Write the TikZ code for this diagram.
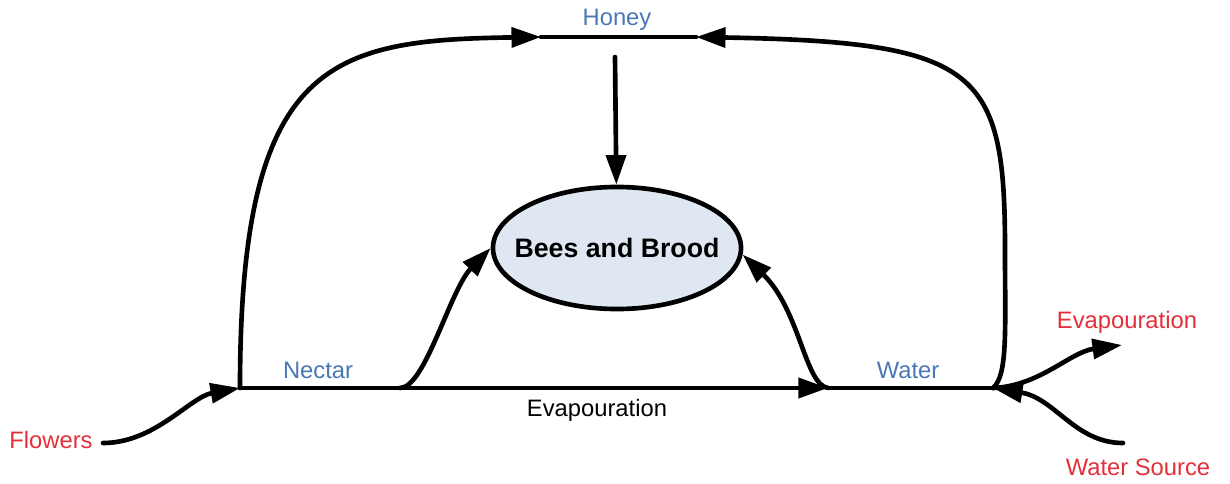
\documentclass[tikz,border=0pt]{standalone}
\usepackage{fontspec}
\setmainfont{Liberation Sans}
\usetikzlibrary{arrows.meta,shapes.geometric}
\definecolor{lblblue}{HTML}{4A78B4}
\definecolor{lblred}{HTML}{E2303A}
\definecolor{broodfill}{HTML}{DFE7F3}

\begin{document}
\begin{tikzpicture}[x=0.025cm, y=-0.025cm, line width=3.3pt, line cap=round,
  >={Triangle[length=21pt,width=14pt]},
  main/.style = {draw, ellipse, fill=broodfill, minimum width=6.2cm, minimum height=3.05cm, inner xsep=-0.37cm, inner ysep=0pt, font=\bfseries\fontsize{19}{22}\selectfont},
  lbl/.style = {inner sep=0pt, font=\fontsize{16.9}{19}\selectfont},
  flow/.style = {lbl, text=lblblue},
  src/.style = {lbl, text=lblred}]
\useasboundingbox (0,0) rectangle (1230,483);

\node[main] (bees) at (617,248) {Bees and Brood};
\node[flow] (honey) at (617,20) {Honey};
\node[flow] (nectar) at (318,370) {Nectar};
\node[flow] (water) at (908,370) {Water};
\node[lbl] (evap) at (597,410) {Evapouration};
\node[src] (flowers) at (51,440) {Flowers};
\node[src] (evapout) at (1127,322) {Evapouration};
\node[src] (source) at (1138,467) {Water Source};

\coordinate (hl) at (541,37);
\coordinate (hr) at (696,37);
\coordinate (hd) at (615,57);
\coordinate (nj) at (240,388);
\coordinate (nb) at (400,388);
\coordinate (wj) at (828,388);
\coordinate (wr) at (993,388);
\coordinate (fl) at (103,443);
\coordinate (ws) at (1123,443);
\coordinate (ev) at (1122,345);

\draw (hl) -- (hr);
\draw[->] (hd) -- (bees);
\draw[->] (nj) .. controls (240,60) and (330,40) .. (hl);
\draw[->] (wr) .. controls (1008,375) and (1005,330) .. (1005,250) .. controls (1005,70) and (980,42) .. (hr);

\draw[->] (nj) -- (wj);
\draw (wj) -- (wr);
\draw[->] (nb) .. controls (425,388) and (450,290) .. (bees.west);
\draw[->] (wj) .. controls (805,385) and (800,310) .. (bees.357);

\draw[->] (fl) .. controls (155,443) and (190,397) .. (nj);
\draw[->] (wr) .. controls (1040,386) and (1070,352) .. (ev);
\draw[->] (ws) .. controls (1075,443) and (1055,398) .. (wr);
\end{tikzpicture}
\end{document}
